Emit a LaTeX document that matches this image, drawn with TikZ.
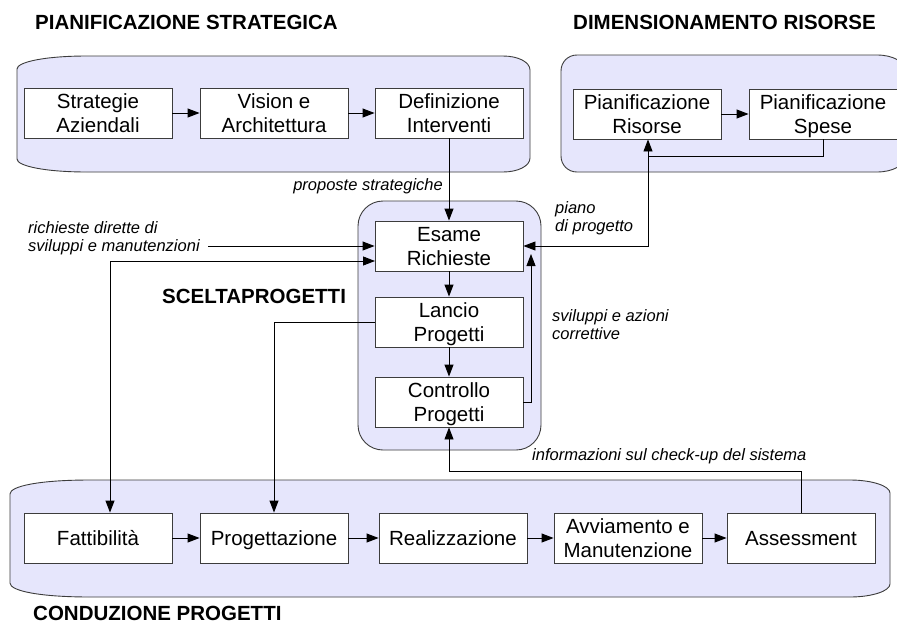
\documentclass[tikz,border=0pt]{standalone}
\usepackage{fontspec}
\setmainfont{Liberation Sans}
\usetikzlibrary{arrows.meta}
\definecolor{lav}{RGB}{230,230,252}
\definecolor{edge}{RGB}{60,60,60}
% uniform line height inside the process boxes
\newcommand\lnstrut{\rule[-4.4pt]{0pt}{23.4pt}}

\begin{document}
\begin{tikzpicture}[x=1pt,y=-1pt,
  group/.style={draw=edge, fill=lav, line width=0.9pt},
  proc/.style={draw=edge, fill=white, line width=0.9pt, minimum width=148pt,
    minimum height=50pt, inner sep=0pt, align=center,
    font=\fontsize{20.5}{24}\selectfont},
  flow/.style={draw=black, line width=0.9pt, -{Triangle[length=12pt,width=9pt]}},
  link/.style={draw=black, line width=0.9pt},
  note/.style={inner sep=0pt, align=left, font=\itshape\fontsize{16.5}{18}\selectfont},
  head/.style={inner sep=0pt, font=\bfseries\fontsize{20.5}{24}\selectfont}]

\clip (0,0) rectangle (897,624);
\fill[white] (0,0) rectangle (897,624);

% group outlines
\path[group] (87,56) -- (503,56) .. controls (518,56) and (530,62) .. (530,70)
  -- (530,158) .. controls (530,166) and (518,172) .. (503,172)
  -- (87,172) .. controls (45,172) and (17,166) .. (17,159)
  -- (17,69) .. controls (17,62) and (45,56) .. (87,56) -- cycle;
\path[group] (577,55) -- (877,55) .. controls (893,55) and (905,62) .. (905,70)
  -- (905,157) .. controls (905,165) and (893,172) .. (877,172)
  -- (577,172) .. controls (568,172) and (561,165) .. (561,156)
  -- (561,71) .. controls (561,62) and (568,55) .. (577,55) -- cycle;
\path[group] (90,480) -- (850,480) .. controls (872,480) and (890,486) .. (890,493)
  -- (890,584) .. controls (890,591) and (872,597) .. (850,597)
  -- (90,597) .. controls (40,597) and (10,591) .. (10,583)
  -- (10,494) .. controls (10,486) and (40,480) .. (90,480) -- cycle;
\path[group, rounded corners=25pt] (358,201) rectangle (541,450);

% group titles
\node[head, anchor=base west] (t1) at (35,29) {PIANIFICAZIONE STRATEGICA};
\node[head, anchor=base west] (t2) at (573,29) {DIMENSIONAMENTO RISORSE};
\node[head, anchor=base west] (t3) at (162,303) {SCELTAPROGETTI};
\node[head, anchor=base west] (t4) at (33,620) {CONDUZIONE PROGETTI};

% process boxes
\node[proc] (sa) at (98,113) {\lnstrut Strategie\\\lnstrut Aziendali};
\node[proc] (va) at (274,113) {\lnstrut Vision e\\\lnstrut Architettura};
\node[proc] (di) at (449,113) {\lnstrut Definizione\\\lnstrut Interventi};
\node[proc] (pr) at (647,114) {\lnstrut Pianificazione\\\lnstrut Risorse};
\node[proc] (ps) at (823,114) {\lnstrut Pianificazione\\\lnstrut Spese};
\node[proc] (er) at (449,246) {\lnstrut Esame\\\lnstrut Richieste};
\node[proc] (lp) at (449,322) {\lnstrut Lancio\\\lnstrut Progetti};
\node[proc] (cp) at (449,402) {\lnstrut Controllo\\\lnstrut Progetti};
\node[proc] (fa) at (98,538) {\lnstrut Fattibilità};
\node[proc] (pg) at (274,538) {\lnstrut Progettazione};
\node[proc] (re) at (453,538) {\lnstrut Realizzazione};
\node[proc] (am) at (628,538) {\lnstrut Avviamento e\\\lnstrut Manutenzione};
\node[proc] (as) at (801,538) {\lnstrut Assessment};

% notes
\node[note, anchor=base east] (n1) at (443,190) {proposte strategiche};
\node[note, anchor=north west] (n2) at (28,221) {richieste dirette di\\sviluppi e manutenzioni};
\node[note, anchor=north west] (n3) at (555,201) {piano\\di progetto};
\node[note, anchor=north west] (n4) at (552,309) {sviluppi e azioni\\correttive};
\node[note, anchor=base west] (n5) at (532,460) {informazioni sul check-up del sistema};

% junction points
\coordinate (fb) at (648,156);
\coordinate (rq) at (208,246);
\coordinate (e2) at (375,261);
\coordinate (fk) at (110,261);
\coordinate (sv) at (531,254);
\coordinate (ck) at (449,471);

% connectors
\draw[flow] (sa) -- (va);
\draw[flow] (va) -- (di);
\draw[flow] (pr) -- (ps);
\draw[link] (ps.south) |- (fb);
\draw[flow] (fb) -- (fb |- pr.south);
\draw[flow] (fb) |- (er.east);
\draw[flow] (di.south) -- (er.north);
\draw[flow] (er) -- (lp);
\draw[flow] (lp) -- (cp);
\draw[flow] (cp.east) -| (sv);
\draw[flow] (rq) -- (er.west |- rq);
\draw[flow] (fk) -- (e2);
\draw[flow] (fk) -- (fk |- fa.north);
\draw[flow] (lp.west) -| (pg.north);
\draw[flow] (fa) -- (pg);
\draw[flow] (pg) -- (re);
\draw[flow] (re) -- (am);
\draw[flow] (am) -- (as);
\draw[flow] (as.north) |- (ck) -- (cp.south);
\end{tikzpicture}
\end{document}
